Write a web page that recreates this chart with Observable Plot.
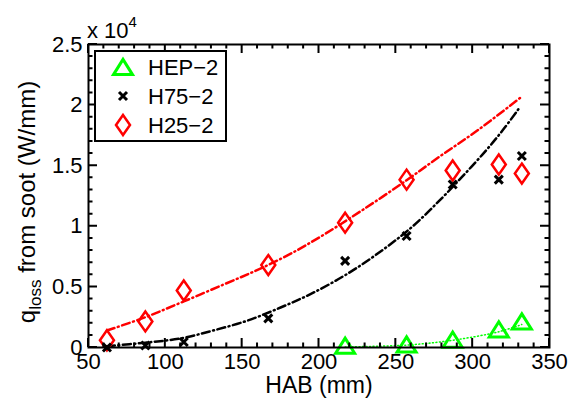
<!DOCTYPE html>
<html><head><meta charset="utf-8">
<script src="https://cdn.jsdelivr.net/npm/d3@7"></script>
<script src="https://cdn.jsdelivr.net/npm/@observablehq/plot@0.6"></script>
<style>
body{margin:0;background:#fff;}
#chart{position:relative;width:571px;height:403px;}
svg text{font-family:"Liberation Sans",Arial,Helvetica,sans-serif;}
</style>
</head><body><div id="chart"></div>
<script>
// ---- data ----
const seriesNames = ["HEP\u22122", "H75\u22122", "H25\u22122"];
const habHEP = [217, 257, 287, 317, 332];
const qHEP   = [150, 250, 650, 1500, 2150];
const habH75 = [62, 87, 112, 167, 217, 257, 287, 317, 332];
const qH75   = [0, 170, 450, 2400, 7150, 9200, 13450, 13850, 15800];
const habH25 = [62, 87, 112, 167, 217, 257, 287, 317, 332];
const qH25   = [600, 2150, 4700, 6800, 10300, 13850, 14600, 15100, 14350];
// fitted curves
const fitHEPx = [217, 257, 287, 317, 332];
const fitHEPy = [50, 200, 600, 1300, 1900];
const fitH75x = [62, 87, 110, 131, 153, 175, 196, 220, 242, 261, 279, 294, 309, 320, 330];
const fitH75y = [100, 400, 750, 1400, 2200, 3300, 4500, 6200, 8100, 10000, 12200, 14200, 16300, 18000, 19700];
const fitH25x = [62, 87, 112, 138, 160, 181, 203, 229, 257, 279, 303, 332];
const fitH25y = [1400, 2500, 3800, 5200, 6400, 7700, 9300, 11400, 13800, 15800, 17900, 20700];
// ticks
const xMajor = [50, 100, 150, 200, 250, 300, 350];
const xMinor = [60,70,80,90,110,120,130,140,160,170,180,190,210,220,230,240,260,270,280,290,310,320,330,340];
const yMajor = [0, 5000, 10000, 15000, 20000, 25000];
const yMinor = [1000,2000,3000,4000,6000,7000,8000,9000,11000,12000,13000,14000,16000,17000,18000,19000,21000,22000,23000,24000];
const xDomain = [50, 350], yDomain = [0, 25000];

const zip = (xs, ys) => xs.map((x, i) => ({x, y: ys[i]}));

// marker shapes
const rad = s => Math.sqrt(s / Math.PI);
const diamond = {draw(c, s){const r=rad(s); c.moveTo(0,-r); c.lineTo(r*0.7,0); c.lineTo(0,r); c.lineTo(-r*0.7,0); c.closePath();}};
const tri = {draw(c, s){const r=rad(s); c.moveTo(0,-r*0.8); c.lineTo(r,r*0.8); c.lineTo(-r,r*0.8); c.closePath();}};
const cross = {draw(c, s){const r=rad(s); c.moveTo(-r,-r); c.lineTo(r,r); c.moveTo(r,-r); c.lineTo(-r,r);}};

const GREEN = "#00ff00", RED = "#ff0000", BLACK = "#000000";
const dashDot = "8,3.5,1,3.5";
const MAJ = 9, MIN = 4.5;
const FS = 22;

const plot = Plot.plot({
  width: 571, height: 403,
  marginLeft: 88, marginRight: 22, marginTop: 44, marginBottom: 56,
  style: {fontFamily: "Liberation Sans, Arial, sans-serif", fontSize: FS + "px", background: "white", color: "black"},
  x: {domain: xDomain},
  y: {domain: yDomain},
  marks: [
    Plot.line(zip(fitH25x, fitH25y), {x: "x", y: "y", stroke: RED, strokeWidth: 2.5, strokeDasharray: dashDot, curve: "catmull-rom"}),
    Plot.line(zip(fitH75x, fitH75y), {x: "x", y: "y", stroke: BLACK, strokeWidth: 2.5, strokeDasharray: dashDot, curve: "catmull-rom"}),
    Plot.line(zip(fitHEPx, fitHEPy), {x: "x", y: "y", stroke: GREEN, strokeWidth: 1.5, strokeDasharray: "1,2.5", curve: "catmull-rom"}),
    Plot.dot(zip(habH25, qH25), {x: "x", y: "y", symbol: diamond, r: 10, stroke: RED, strokeWidth: 2.5, fill: "none"}),
    Plot.dot(zip(habH75, qH75), {x: "x", y: "y", symbol: cross, r: 4, stroke: BLACK, strokeWidth: 3, fill: "none"}),
    Plot.dot(zip(habHEP, qHEP), {x: "x", y: "y", symbol: tri, r: 9.5, stroke: GREEN, strokeWidth: 3, fill: "none"}),
    Plot.axisX(xMajor, {anchor: "bottom", tickSize: 0, tickPadding: 6, label: null, fontSize: FS}),
    Plot.axisY(yMajor, {anchor: "left", tickSize: 0, tickPadding: 6, label: null, fontSize: FS, tickFormat: d => String(d / 1e4)}),
    Plot.frame({stroke: BLACK, strokeWidth: 2})
  ]
});
document.getElementById("chart").appendChild(plot);

const svg = d3.select(plot);
const sx = plot.scale("x"), sy = plot.scale("y");
const x0 = sx.apply(xDomain[0]), x1 = sx.apply(xDomain[1]);
const y0 = sy.apply(yDomain[0]), y1 = sy.apply(yDomain[1]);

// inward ticks on all four sides, placed through Plot's scales
const tp = d3.path();
const addX = (vals, len) => vals.forEach(v => {
  const px = sx.apply(v);
  tp.moveTo(px, y0); tp.lineTo(px, y0 - len);
  tp.moveTo(px, y1); tp.lineTo(px, y1 + len);
});
const addY = (vals, len) => vals.forEach(v => {
  const py = sy.apply(v);
  tp.moveTo(x0, py); tp.lineTo(x0 + len, py);
  tp.moveTo(x1, py); tp.lineTo(x1 - len, py);
});
addX(xMajor, MAJ); addX(xMinor, MIN); addY(yMajor, MAJ); addY(yMinor, MIN);
svg.append("path").attr("d", tp.toString()).attr("fill", "none")
  .attr("stroke", "black").attr("stroke-width", 2);

svg.selectAll("g[aria-label='x-axis tick label'], g[aria-label='y-axis tick label']").attr("font-size", FS);
svg.selectAll("g[aria-label='x-axis tick label'] text, g[aria-label='y-axis tick label'] text")
  .attr("font-size", FS).style("font-size", FS + "px");
const F = "Liberation Sans, Arial, sans-serif";
svg.append("text").attr("x", 319).attr("y", 393).attr("text-anchor", "middle")
  .attr("font-family", F).style("font-size", "23px").attr("fill", "black").text("HAB (mm)");

const yl = svg.append("text").attr("transform", "translate(35,202) rotate(-90)")
  .attr("text-anchor", "middle").attr("font-family", F).style("font-size", "24px").attr("fill", "black");
yl.append("tspan").text("q");
yl.append("tspan").style("font-size", "17px").attr("dy", 6).text("loss");
yl.append("tspan").attr("dy", -6).text(" from soot (W/mm)");

const mult = svg.append("text").attr("x", 87).attr("y", 38).attr("text-anchor", "start")
  .attr("font-family", F).style("font-size", FS + "px").attr("fill", "black");
mult.append("tspan").text("x 10");
mult.append("tspan").style("font-size", "15px").attr("dy", -11).text("4");

const lg = svg.append("g");
lg.append("rect").attr("x", 95).attr("y", 51).attr("width", 131).attr("height", 90)
  .attr("fill", "white").attr("stroke", "black").attr("stroke-width", 2);
const legendItems = [
  {name: seriesNames[0], shape: tri, r: 9.5, color: GREEN, sw: 3},
  {name: seriesNames[1], shape: cross, r: 4, color: BLACK, sw: 3},
  {name: seriesNames[2], shape: diamond, r: 10, color: RED, sw: 2.5}
];
legendItems.forEach((d, i) => {
  const cy = 67 + i * 29;
  const p = d3.path(); d.shape.draw(p, d.r * d.r * Math.PI);
  lg.append("path").attr("transform", `translate(123,${cy})`).attr("d", p.toString())
    .attr("fill", "none").attr("stroke", d.color).attr("stroke-width", d.sw);
  lg.append("text").attr("x", 148).attr("y", cy + 8).attr("text-anchor", "start")
    .attr("font-family", F).style("font-size", FS + "px").attr("fill", "black").text(d.name);
});
</script>
</body></html>
